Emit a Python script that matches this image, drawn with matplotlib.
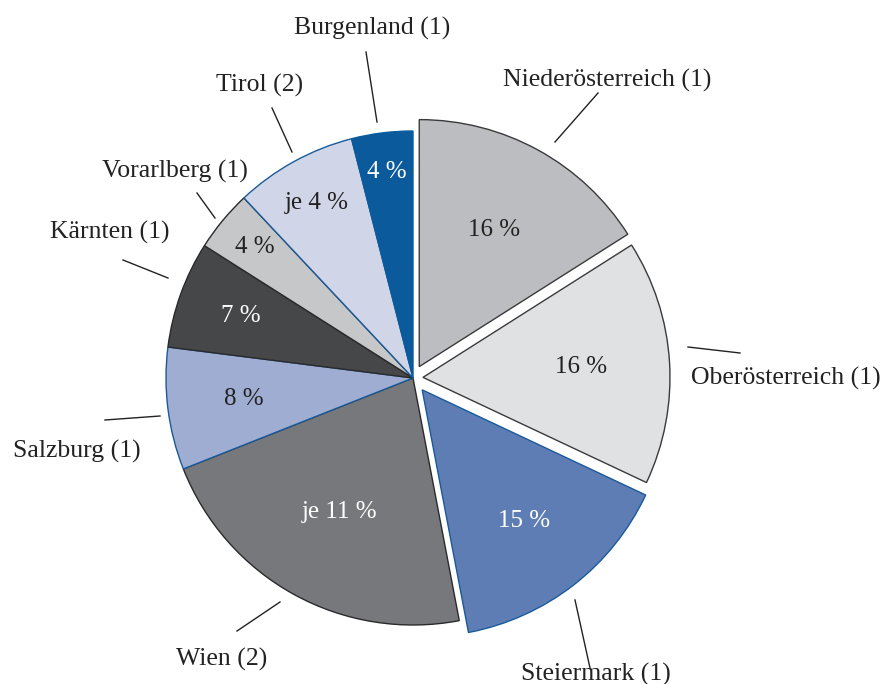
import numpy as np
import matplotlib
matplotlib.use("Agg")
import matplotlib.pyplot as plt

# data (clockwise from 12 o'clock)
laender = ["Niederösterreich", "Oberösterreich", "Steiermark", "Wien", "Salzburg",
           "Kärnten", "Vorarlberg", "Tirol", "Burgenland"]
anzahl = [1, 1, 1, 2, 1, 1, 1, 2, 1]
anteil_je = [16, 16, 15, 11, 8, 7, 4, 4, 4]
werte = [a * n for a, n in zip(anteil_je, anzahl)]

farben = ["#bcbdc0", "#e0e1e3", "#5f7db5", "#77787b", "#9eadd1",
          "#464749", "#c6c7c8", "#d0d5e8", "#0b5a9c"]
kanten = ["#3a3a3c", "#3a3a3c", "#1a5a9a", "#2a2a2c", "#1a5a9a",
          "#2a2a2c", "#2a2a2c", "#1a5a9a", "#0b5a9c"]
textfarben = ["#222222", "#222222", "white", "white", "#222222",
              "white", "#222222", "#222222", "white"]
# offsets in pixels (pie explode is in data units)
explode = [13, 10, 15, 0, 0, 0, 0, 0, 0]
pct_r = [0.63, 0.64, 0.67, 0.62, 0.69, 0.74, 0.83, 0.81, 0.84]

W, H = 886, 684
# label layout in pixel coords (x, y from top)
label_px = [(607, 80), (786, 378), (596, 674), (222, 659), (77, 451),
            (110, 232), (175, 171), (260, 85), (372, 28)]
leader_px = [((555, 142), (598, 93)), ((688, 347), (740, 353)), ((575, 600), (590, 668)),
             ((280, 602), (237, 631)), ((160, 416), (105, 420)), ((168, 278), (123, 260)),
             ((215, 218), (197, 193)), ((292, 152), (272, 108)), ((377, 122), (366, 52))]

plt.rcParams['font.family'] = ['Liberation Serif', 'DejaVu Serif']

fig = plt.figure(figsize=(W / 100, H / 100), dpi=100)
ax = fig.add_axes([0, 0, 1, 1])

wedges, _ = ax.pie(werte, colors=farben, startangle=90, counterclock=False,
                   explode=explode, center=(413, H - 378), radius=247,
                   wedgeprops=dict(linewidth=1.0))
for w, k in zip(wedges, kanten):
    w.set_edgecolor(k)

for i, w in enumerate(wedges):
    theta = np.deg2rad((w.theta1 + w.theta2) / 2)
    cx, cy = w.center
    r = pct_r[i] * w.r
    if anzahl[i] > 1:
        txt = "je %d %%" % anteil_je[i]
    else:
        txt = "%d %%" % anteil_je[i]
    ax.text(cx + r * np.cos(theta), cy + r * np.sin(theta), txt,
            ha='center', va='center', fontsize=18, color=textfarben[i])

for i, name in enumerate(laender):
    (x1, y1), (x2, y2) = leader_px[i]
    ax.plot([x1, x2], [H - y1, H - y2], color='#222222', lw=1.0)
    lx, ly = label_px[i]
    ax.text(lx, H - ly, "%s (%d)" % (name, anzahl[i]), ha='center', va='center',
            fontsize=18.5, color='#222222')

ax.set_xlim(0, W)
ax.set_ylim(0, H)
ax.set_aspect('equal')
ax.axis('off')

fig.savefig("out.png", dpi=100, facecolor='white')
